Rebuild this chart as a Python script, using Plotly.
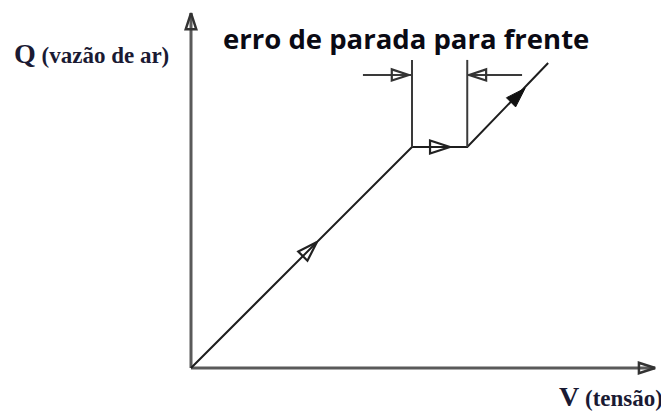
import plotly.graph_objects as go

# Conceptual units (schematic): V = voltage, Q = air flow
curve_v = [0.0, 5.0, 6.25, 8.08]
curve_q = [0.0, 5.0, 5.0, 6.90]

axis_v_max = 10.50
axis_q_max = 8.03

stop_v = [5.0, 6.25]          # vertical guide lines of the stop error
guide_q_top = 6.97
gap_q = 6.63
left_arrow_v = [3.89, 5.0]
right_arrow_v = [6.25, 7.49]
gap_arrow_v = [4.93, 6.29]
gap_arrow_angle = [90, -90]

# arrow marks along the curve (tip positions)
open_arrow_v = [2.85, 5.86]
open_arrow_q = [2.85, 5.0]
open_arrow_angle = [45, 90]
solid_arrow_v = [7.56]
solid_arrow_q = [6.33]

title_text = "erro de parada para frente"
y_label = "<span style='font-size:28px'>Q</span> (vazão de ar)"
x_label = "<span style='font-size:28px'>V</span> (tensão)"

# page has an 8px body margin; map page pixels into the figure
OFF = 8
PX = 44.2
X0, Y0 = 191 - OFF, 368 - OFF
W, H = 669 - OFF, 412 - OFF
xr = [-X0 / PX, (W - X0) / PX]
yr = [-(H - Y0) / PX, Y0 / PX]


def px(x):
    return (x - OFF) / W


def py(y):
    return 1 - (y - OFF) / H


line_col = "#1e1e1e"
axis_col = "#5a5a5a"
guide_col = "#3a3a3a"

fig = go.Figure()

# axes
fig.add_trace(go.Scatter(x=[0, axis_v_max], y=[0, 0], mode="lines",
                         line=dict(color=axis_col, width=3), hoverinfo="skip"))
fig.add_trace(go.Scatter(x=[0, 0], y=[0, axis_q_max], mode="lines",
                         line=dict(color=axis_col, width=3), hoverinfo="skip"))
fig.add_trace(go.Scatter(x=[axis_v_max, 0], y=[0, axis_q_max], mode="markers",
                         marker=dict(symbol="arrow-open", size=17, angle=[90, 0],
                                     color="#333333", line=dict(width=2.5, color="#333333")),
                         hoverinfo="skip"))

# curve
fig.add_trace(go.Scatter(x=curve_v, y=curve_q, mode="lines",
                         line=dict(color=line_col, width=2), hoverinfo="skip"))

# vertical guides
for v in stop_v:
    fig.add_trace(go.Scatter(x=[v, v], y=[curve_q[1], guide_q_top], mode="lines",
                             line=dict(color=guide_col, width=2), hoverinfo="skip"))

# horizontal dimension arrows
fig.add_trace(go.Scatter(x=left_arrow_v, y=[gap_q, gap_q], mode="lines",
                         line=dict(color=guide_col, width=2), hoverinfo="skip"))
fig.add_trace(go.Scatter(x=right_arrow_v, y=[gap_q, gap_q], mode="lines",
                         line=dict(color=guide_col, width=2), hoverinfo="skip"))
fig.add_trace(go.Scatter(x=gap_arrow_v, y=[gap_q, gap_q], mode="markers",
                         marker=dict(symbol="arrow-open", size=18, angle=gap_arrow_angle,
                                     color="#333333", line=dict(width=2.2, color="#333333")),
                         hoverinfo="skip"))

# arrows along the curve
fig.add_trace(go.Scatter(x=open_arrow_v, y=open_arrow_q, mode="markers",
                         marker=dict(symbol="arrow-open", size=21, angle=open_arrow_angle,
                                     color="#222222", line=dict(width=2.2, color="#222222")),
                         hoverinfo="skip"))
fig.add_trace(go.Scatter(x=solid_arrow_v, y=solid_arrow_q, mode="markers",
                         marker=dict(symbol="arrow", size=21, angle=45,
                                     color="#111111", line=dict(width=1, color="#111111")),
                         hoverinfo="skip"))

fig.add_annotation(x=px(221), y=py(39), xref="paper", yref="paper",
                   xanchor="left", yanchor="middle", text="<b>" + title_text + "</b>",
                   showarrow=False, font=dict(family="Open Sans", size=27.5, color="#0a0a14"))
fig.add_annotation(x=px(12), y=py(54), xref="paper", yref="paper",
                   xanchor="left", yanchor="middle", text="<b>" + y_label + "</b>",
                   showarrow=False, font=dict(family="Liberation Serif", size=23, color="#1a1a33"))
fig.add_annotation(x=px(557), y=py(396), xref="paper", yref="paper",
                   xanchor="left", yanchor="middle", text="<b>" + x_label + "</b>",
                   showarrow=False, font=dict(family="Liberation Serif", size=23, color="#1a1a33"))

fig.update_layout(width=W, height=H, margin=dict(l=0, r=0, t=0, b=0),
                  paper_bgcolor="white", plot_bgcolor="white", showlegend=False,
                  xaxis=dict(range=xr, visible=False, fixedrange=True),
                  yaxis=dict(range=yr, visible=False, fixedrange=True))

fig.write_html("out.html")
